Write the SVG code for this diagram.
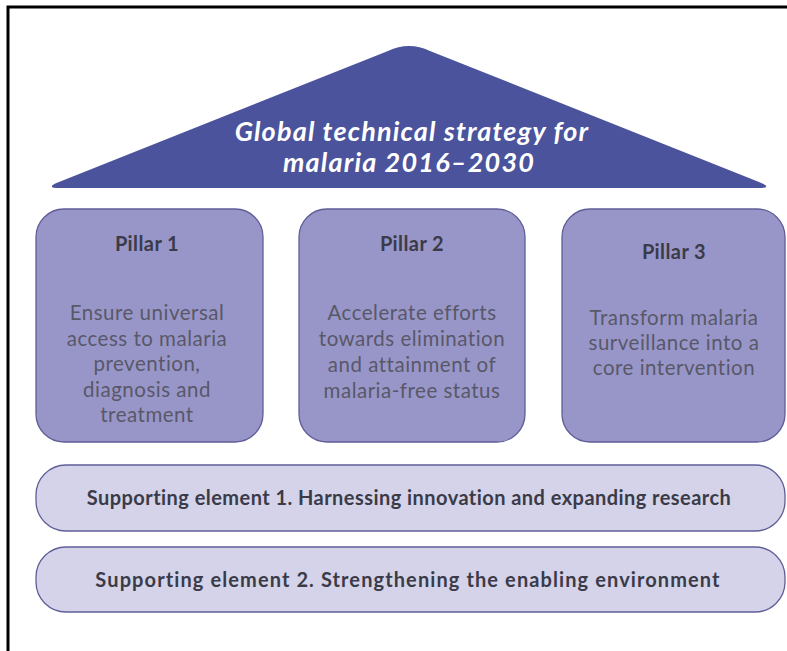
<svg xmlns="http://www.w3.org/2000/svg" width="787" height="651" viewBox="0 0 787 651">
<style>
.pillar{fill:#9896c9;stroke:#5f5d98;stroke-width:1.3}
.support{fill:#d4d3ea;stroke:#5f5f98;stroke-width:1.3}
.ptitle{font-family:Lato,"Open Sans",sans-serif;font-weight:700;font-size:20px;fill:#3b3b48;text-anchor:middle;letter-spacing:0.4px}
.pbody{font-family:Lato,"Open Sans",sans-serif;font-weight:400;font-size:20.5px;fill:#585868;text-anchor:middle;letter-spacing:0.5px}
.stext{font-family:Lato,"Open Sans",sans-serif;font-weight:700;font-size:20px;fill:#3b3b48;text-anchor:middle;letter-spacing:0.45px}
.roof{fill:#4b539c}
.rtext{font-family:Lato,"Open Sans",sans-serif;font-weight:700;font-style:italic;font-size:27px;fill:#ffffff;text-anchor:middle;letter-spacing:1.2px}
</style>
<rect x="0" y="0" width="787" height="651" fill="#ffffff"/>
<path d="M8,651 L8,7 L787,7" fill="none" stroke="#000" stroke-width="3"/>
<g id="roof">
<path class="roof" d="M60,188 Q44,188 59,182 L388,51 Q409,41 430,51 L759,182 Q774,188 758,188 Z"/>
<text class="rtext" x="412" y="141">Global technical strategy for</text>
<text class="rtext" x="409" y="172">malaria 2016–2030</text>
</g>
<g id="pillar1">
<rect class="pillar" x="36" y="209" width="227" height="233" rx="28"/>
<text class="ptitle" x="147" y="251">Pillar 1</text>
<text class="pbody" x="147" y="320">Ensure universal</text>
<text class="pbody" x="147" y="346">access to malaria</text>
<text class="pbody" x="147" y="371">prevention,</text>
<text class="pbody" x="147" y="397">diagnosis and</text>
<text class="pbody" x="147" y="422">treatment</text>
</g>
<g id="pillar2">
<rect class="pillar" x="299" y="209" width="226" height="233" rx="28"/>
<text class="ptitle" x="412" y="251">Pillar 2</text>
<text class="pbody" x="412" y="320">Accelerate efforts</text>
<text class="pbody" x="412" y="346">towards elimination</text>
<text class="pbody" x="412" y="372">and attainment of</text>
<text class="pbody" x="412" y="398">malaria-free status</text>
</g>
<g id="pillar3">
<rect class="pillar" x="562" y="209" width="223" height="233" rx="28"/>
<text class="ptitle" x="674" y="259">Pillar 3</text>
<text class="pbody" x="674" y="325">Transform malaria</text>
<text class="pbody" x="674" y="350">surveillance into a</text>
<text class="pbody" x="674" y="375">core intervention</text>
</g>
<g id="support1">
<rect class="support" x="36" y="465" width="749" height="66" rx="30"/>
<text class="stext" x="409" y="505">Supporting element 1. Harnessing innovation and expanding research</text>
</g>
<g id="support2">
<rect class="support" x="36" y="547" width="749" height="65" rx="30"/>
<text class="stext" x="408" y="587" style="letter-spacing:1.1px">Supporting element 2. Strengthening the enabling environment</text>
</g>
<g id="connectors"></g>
</svg>
